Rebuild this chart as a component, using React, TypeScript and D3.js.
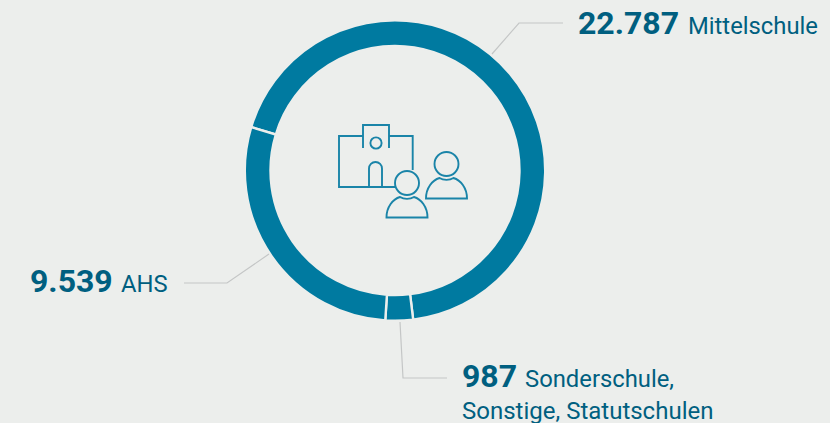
import React from "react";
import * as d3 from "d3";

const categories = ["Mittelschule", "Sonderschule, Sonstige, Statutschulen", "AHS"];
const values = [22787, 987, 9539];
const valueLabels = ["22.787", "987", "9.539"];

const BG = "#eceeec";
const RING = "#007aa0";
const TEXT = "#005f80";
const LINE = "#c4c6c6";
const ICON = "#1a84a8";

function Person({ x, y }: { x: number; y: number }) {
  return (
    <g transform={`translate(${x},${y})`} fill="none" stroke={ICON} strokeWidth={1.9}>
      <circle cx={0} cy={0} r={12} />
      <path d="M-20.5,34.5 C-20.5,24 -14,16 -7,14 C-3,16.5 3,16.5 7,14 C14,16 20.5,24 20.5,34.5 Z" />
    </g>
  );
}

export default function App() {
  const width = 830;
  const height = 423;
  const cx = 395;
  const cy = 170.5;
  const start = (-73.2 * Math.PI) / 180;
  const pie = d3.pie<number>().sort(null).startAngle(start).endAngle(start + 2 * Math.PI);
  const arc = d3.arc<d3.PieArcDatum<number>>().innerRadius(124.5).outerRadius(150.2);
  const arcs = pie(values);

  return (
    <svg
      width={width}
      height={height}
      style={{ position: "absolute", left: 0, top: 0, background: BG, fontFamily: "Roboto" }}
    >
      <rect width={width} height={height} fill={BG} />
      <g transform={`translate(${cx},${cy})`}>
        {arcs.map((a, i) => (
          <path key={categories[i]} d={arc(a) || ""} fill={RING} stroke={BG} strokeWidth={2.4} />
        ))}
      </g>

      <g fill="none" stroke={LINE} strokeWidth={1.2}>
        <polyline points="492,54 519,23 563,23" />
        <polyline points="269,254 227,283 184,283" />
        <polyline points="400,322 403,378 447,378" />
      </g>

      <g fill="none" stroke={ICON} strokeWidth={1.9}>
        <path d="M363,136 H339 V187 H396 M389,136 H412.7 V170" />
        <path d="M363,148 V125 H389 V148" />
        <circle cx={376} cy={143} r={5.6} />
        <path d="M369,187 V168.5 A6.5,6.5 0 0 1 382,168.5 V187 Z" />
      </g>
      <Person x={407} y={183} />
      <Person x={446.5} y={164} />

      <text x={578} y={34} fill={TEXT}>
        <tspan fontSize={32} fontWeight={700}>{valueLabels[0]}</tspan>
        <tspan x={688} fontSize={23.8}>{categories[0]}</tspan>
      </text>
      <text x={30} y={292} fill={TEXT}>
        <tspan fontSize={32} fontWeight={700}>{valueLabels[2]}</tspan>
        <tspan x={121} fontSize={23.8}>{categories[2]}</tspan>
      </text>
      <text x={462} y={387} fill={TEXT}>
        <tspan fontSize={32} fontWeight={700}>{valueLabels[1]}</tspan>
        <tspan x={525} fontSize={23.8}>Sonderschule,</tspan>
      </text>
      <text x={462} y={418.5} fill={TEXT} fontSize={24}>Sonstige, Statutschulen</text>
    </svg>
  );
}
